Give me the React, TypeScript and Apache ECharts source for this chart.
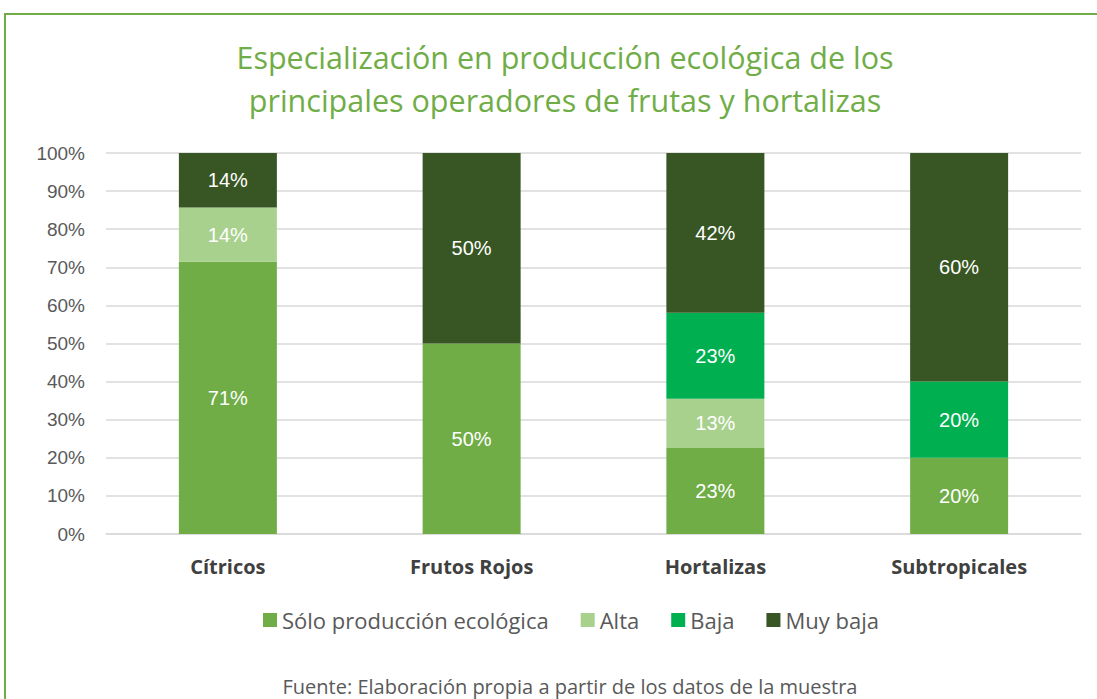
import React, { useEffect, useRef } from "react";
import * as echarts from "echarts";

const categories = ["Cítricos", "Frutos Rojos", "Hortalizas", "Subtropicales"];
const seriesNames = ["Sólo producción ecológica", "Alta", "Baja", "Muy baja"];
const soloValues = [71.43, 50, 22.58, 20];
const altaValues = [14.29, 0, 12.9, 0];
const bajaValues = [0, 0, 22.58, 20];
const muyBajaValues = [14.29, 50, 41.94, 60];
const colors = ["#70AD47", "#A9D18E", "#00B050", "#375623"];
const yTicks = [0, 10, 20, 30, 40, 50, 60, 70, 80, 90, 100];

const narrow = "'Open Sans', sans-serif";
const arial = "Arial, 'Liberation Sans', sans-serif";

export default function App() {
  const ref = useRef<HTMLDivElement>(null);
  useEffect(() => {
    if (!ref.current) return;
    const chart = echarts.init(ref.current, undefined, { renderer: "svg" });
    const all = [soloValues, altaValues, bajaValues, muyBajaValues];
    chart.setOption({
      animation: false,
      backgroundColor: "#ffffff",
      title: {
        text: "Especialización en producción ecológica de los\nprincipales operadores de frutas y hortalizas",
        left: 560,
        top: 30,
        textAlign: "center",
        textStyle: {
          color: "#70AD47",
          fontFamily: narrow,
          fontWeight: "normal",
          fontSize: 30.5,
          lineHeight: 43,
        },
      },
      graphic: [
        {
          type: "rect",
          shape: { x: 5, y: 14, width: 1200, height: 800 },
          style: { fill: "none", stroke: "#70AD47", lineWidth: 2 },
          silent: true,
        },
        {
          type: "text",
          x: 570,
          y: 686,
          style: {
            text: "Fuente: Elaboración propia a partir de los datos de la muestra",
            fill: "#595959",
            font: `20px ${narrow}`,
            align: "center",
            verticalAlign: "middle",
          },
        },
      ],
      legend: {
        data: seriesNames,
        left: 258,
        top: 604,
        itemWidth: 14,
        itemHeight: 14,
        itemGap: 32,
        icon: "rect",
        textStyle: { color: "#595959", fontFamily: narrow, fontSize: 22 },
      },
      grid: { left: 106, right: 16, top: 153, bottom: 165, containLabel: false },
      xAxis: {
        type: "category",
        data: categories,
        axisLine: { lineStyle: { color: "#D9D9D9", width: 1.5 } },
        axisTick: { show: false },
        axisLabel: {
          color: "#404040",
          fontFamily: narrow,
          fontWeight: "bold",
          fontSize: 20,
          margin: 22,
        },
      },
      yAxis: {
        type: "value",
        min: 0,
        max: 100,
        interval: 10,
        axisLine: { show: false },
        axisTick: { show: false },
        splitLine: { lineStyle: { color: "#D9D9D9", width: 1.5 } },
        axisLabel: {
          color: "#595959",
          fontFamily: arial,
          fontSize: 19,
          margin: 21,
          formatter: (v: number) => (yTicks.includes(v) ? `${v}%` : ""),
        },
      },
      series: seriesNames.map((name, i) => ({
        name,
        type: "bar",
        stack: "total",
        barWidth: 98,
        data: all[i],
        itemStyle: { color: colors[i] },
        label: {
          show: true,
          position: "inside",
          color: "#ffffff",
          fontFamily: arial,
          fontSize: 20,
          formatter: (p: any) => (p.value > 0 ? `${Math.round(p.value)}%` : ""),
        },
      })),
    });
    return () => chart.dispose();
  }, []);
  return (
    <div
      ref={ref}
      style={{ position: "fixed", left: 0, top: 0, width: 1097, height: 699 }}
    />
  );
}
